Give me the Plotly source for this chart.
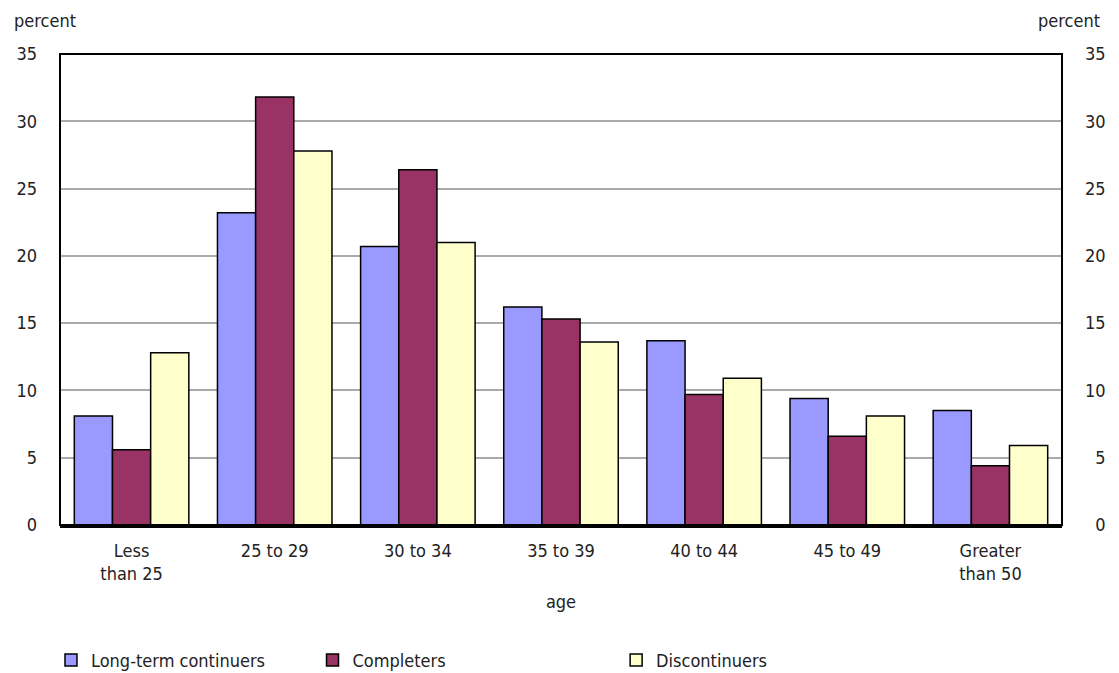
import plotly.graph_objects as go

categories = ["Less<br>than 25", "25 to 29", "30 to 34", "35 to 39", "40 to 44", "45 to 49", "Greater<br>than 50"]
long_term = [8.1, 23.2, 20.7, 16.2, 13.7, 9.4, 8.5]
completers = [5.6, 31.8, 26.4, 15.3, 9.7, 6.6, 4.4]
discontinuers = [12.8, 27.8, 21.0, 13.6, 10.9, 8.1, 5.9]
y_ticks = [0, 5, 10, 15, 20, 25, 30, 35]
y_tick_text = ["0", "5", "10", "15", "20", "25", "30", "35"]
# right axis labels are right-aligned in the reference: pad single digits with a figure space
y_tick_text_right = [("\u2007" + t) if len(t) == 1 else t for t in y_tick_text]

FONT = "DejaVu Sans Condensed, Liberation Sans Narrow, sans-serif"
TXT = "#222222"
FS = 18

fig = go.Figure()
series = [("Long-term continuers", long_term, "#9999FF", "legend"),
          ("Completers", completers, "#993366", "legend2"),
          ("Discontinuers", discontinuers, "#FFFFCC", "legend3")]
for name, vals, col, leg in series:
    fig.add_trace(go.Bar(name=name, x=categories, y=vals, legend=leg,
                         marker=dict(color=col, line=dict(color="black", width=1.5))))

# invisible trace for right axis
fig.add_trace(go.Scatter(x=categories, y=[None]*len(categories), yaxis="y2",
                         showlegend=False, hoverinfo="skip"))

leg_common = dict(orientation="h", yanchor="middle", xanchor="left", y=-0.287,
                  font=dict(size=FS), bgcolor="rgba(0,0,0,0)")

fig.update_layout(
    width=1111, height=665,
    margin=dict(l=52, r=57, t=46, b=148, autoexpand=False),
    paper_bgcolor="white", plot_bgcolor="white",
    font=dict(family=FONT, size=FS, color=TXT),
    barmode="group", bargap=0.2, bargroupgap=0,
    xaxis=dict(title=dict(text="age", standoff=13, font=dict(size=FS)), showline=True,
               linecolor="black", linewidth=3, ticks="", tickfont=dict(size=FS),
               ticklabelstandoff=7, automargin=False),
    yaxis=dict(range=[0, 35], tickvals=y_ticks, ticktext=y_tick_text, showgrid=True,
               gridcolor="#aaaaaa", gridwidth=2, zeroline=False, ticks="",
               ticklabelstandoff=22, tickfont=dict(size=FS), automargin=False),
    yaxis2=dict(range=[0, 35], tickvals=y_ticks, ticktext=y_tick_text_right, overlaying="y",
                side="right", showgrid=False, zeroline=False, ticks="",
                ticklabelstandoff=22, tickfont=dict(size=FS), automargin=False),
    legend=dict(x=-0.009, **leg_common),
    legend2=dict(x=0.252, **leg_common),
    legend3=dict(x=0.555, **leg_common),
    showlegend=True,
    shapes=[dict(type="rect", xref="paper", yref="paper", x0=0, x1=1, y0=0, y1=1,
                 line=dict(color="black", width=2), layer="above")],
    annotations=[
        dict(text="percent", xref="paper", yref="paper", x=-0.048, y=1.072, xanchor="left",
             yanchor="middle", showarrow=False, font=dict(size=FS)),
        dict(text="percent", xref="paper", yref="paper", x=1.04, y=1.072, xanchor="right",
             yanchor="middle", showarrow=False, font=dict(size=FS)),
    ],
)

fig.write_html("out.html")
